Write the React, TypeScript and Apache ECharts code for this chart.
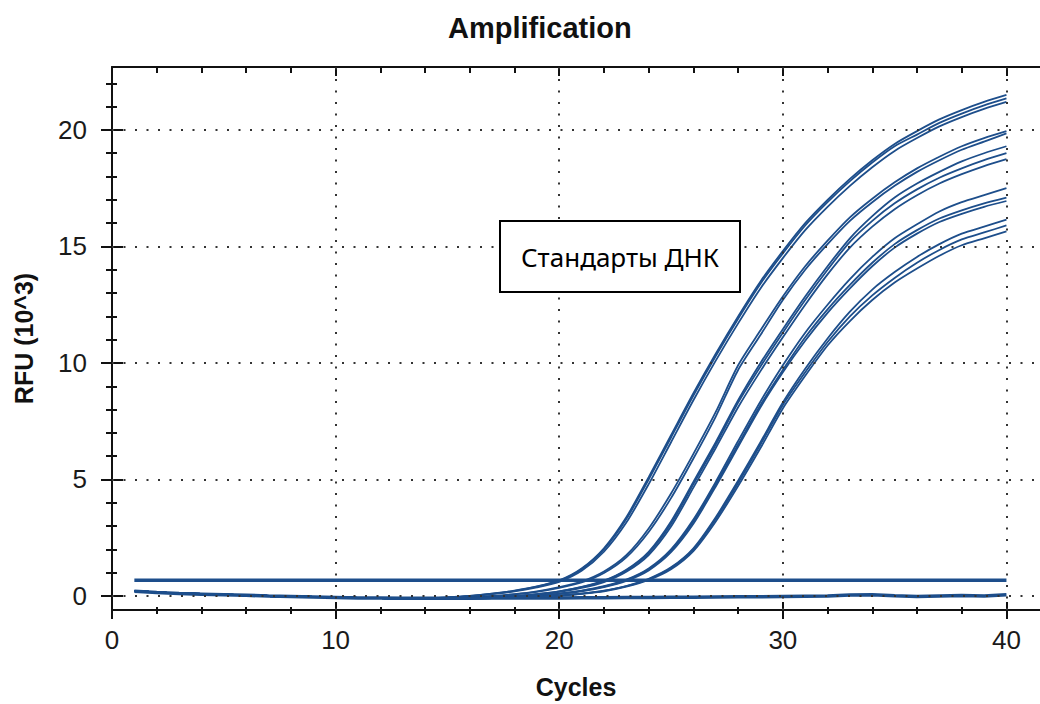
import React, { useEffect, useRef } from "react";
import * as echarts from "echarts";

// ---------- data ----------
const cycles = [1, 2, 3, 4, 5, 6, 7, 8, 9, 10, 11, 12, 13, 14, 15, 16, 17, 18, 19, 20,
  21, 22, 23, 24, 25, 26, 27, 28, 29, 30, 31, 32, 33, 34, 35, 36, 37, 38, 39, 40];

// cycles 1..14, shared by all standard curves
const earlyBaseline = [0.22, 0.16, 0.12, 0.09, 0.06, 0.03, 0.0, -0.02, -0.04, -0.06, -0.08, -0.09, -0.1, -0.1];

// cycles 15..40 for each standard curve
const s1a = [-0.06, 0.0, 0.1, 0.23, 0.41, 0.67, 1.18, 2.05, 3.38, 5.1, 6.9, 8.7, 10.4, 12.0, 13.5, 14.8, 16.0, 17.0, 17.9, 18.7, 19.4, 19.95, 20.45, 20.85, 21.2, 21.5];
const s1b = [-0.06, 0.0, 0.1, 0.22, 0.4, 0.65, 1.15, 2.0, 3.3, 5.0, 6.8, 8.6, 10.3, 11.9, 13.4, 14.7, 15.9, 16.9, 17.8, 18.6, 19.3, 19.8, 20.3, 20.7, 21.05, 21.35];
const s1c = [-0.07, -0.01, 0.08, 0.2, 0.37, 0.61, 1.08, 1.9, 3.15, 4.8, 6.6, 8.4, 10.1, 11.7, 13.2, 14.5, 15.7, 16.7, 17.6, 18.4, 19.1, 19.65, 20.15, 20.55, 20.9, 21.2];
const s2a = [-0.08, -0.06, 0.0, 0.08, 0.2, 0.38, 0.62, 1.05, 1.75, 2.9, 4.4, 6.1, 7.9, 9.9, 11.4, 12.85, 14.15, 15.25, 16.25, 17.05, 17.75, 18.35, 18.85, 19.3, 19.65, 19.95];
const s2b = [-0.08, -0.06, -0.01, 0.07, 0.18, 0.35, 0.58, 0.99, 1.66, 2.75, 4.2, 5.9, 7.7, 9.7, 11.2, 12.7, 14.0, 15.1, 16.1, 16.9, 17.6, 18.2, 18.7, 19.15, 19.5, 19.85];
const s3a = [-0.09, -0.08, -0.05, 0.0, 0.08, 0.2, 0.39, 0.66, 1.13, 1.9, 3.2, 4.9, 6.6, 8.4, 10.0, 11.45, 12.85, 14.15, 15.35, 16.3, 17.1, 17.7, 18.2, 18.65, 19.0, 19.3];
const s3b = [-0.09, -0.08, -0.05, 0.0, 0.08, 0.2, 0.38, 0.64, 1.1, 1.85, 3.1, 4.8, 6.5, 8.3, 9.85, 11.3, 12.7, 14.0, 15.2, 16.1, 16.85, 17.45, 17.95, 18.35, 18.7, 19.0];
const s3c = [-0.09, -0.08, -0.06, -0.01, 0.06, 0.18, 0.35, 0.6, 1.04, 1.76, 2.98, 4.65, 6.35, 8.1, 9.65, 11.1, 12.5, 13.8, 14.95, 15.85, 16.6, 17.2, 17.7, 18.1, 18.45, 18.75];
const s4a = [-0.1, -0.09, -0.07, -0.04, 0.02, 0.1, 0.23, 0.42, 0.7, 1.18, 2.0, 3.28, 4.9, 6.65, 8.35, 9.9, 11.3, 12.5, 13.6, 14.55, 15.35, 15.95, 16.5, 16.9, 17.2, 17.5];
const s4b = [-0.1, -0.09, -0.07, -0.04, 0.02, 0.1, 0.22, 0.4, 0.68, 1.15, 1.95, 3.2, 4.8, 6.5, 8.2, 9.7, 11.1, 12.3, 13.35, 14.3, 15.1, 15.7, 16.2, 16.55, 16.85, 17.1];
const s4c = [-0.1, -0.09, -0.07, -0.05, 0.01, 0.09, 0.2, 0.38, 0.65, 1.1, 1.88, 3.1, 4.7, 6.4, 8.1, 9.6, 10.95, 12.15, 13.2, 14.15, 14.95, 15.55, 16.05, 16.4, 16.7, 16.95];
const s5a = [-0.1, -0.1, -0.09, -0.07, -0.04, 0.02, 0.1, 0.23, 0.43, 0.74, 1.23, 2.05, 3.38, 4.95, 6.6, 8.3, 9.75, 11.05, 12.2, 13.15, 13.9, 14.55, 15.1, 15.55, 15.85, 16.15];
const s5b = [-0.1, -0.1, -0.09, -0.07, -0.04, 0.02, 0.1, 0.22, 0.42, 0.72, 1.2, 2.0, 3.3, 4.85, 6.5, 8.2, 9.6, 10.9, 12.0, 12.9, 13.65, 14.3, 14.85, 15.3, 15.6, 15.9];
const s5c = [-0.1, -0.1, -0.09, -0.07, -0.05, 0.01, 0.09, 0.2, 0.4, 0.69, 1.15, 1.93, 3.2, 4.72, 6.35, 8.05, 9.45, 10.75, 11.8, 12.7, 13.45, 14.05, 14.6, 15.05, 15.35, 15.65];

const standardTails = [s1a, s1b, s1c, s2a, s2b, s3a, s3b, s3c, s4a, s4b, s4c, s5a, s5b, s5c];

// flat traces, cycles 1..40
const flatTrace = [0.68, 0.68, 0.68, 0.68, 0.68, 0.68, 0.68, 0.68, 0.68, 0.68, 0.68, 0.68, 0.68, 0.68, 0.68, 0.68, 0.68, 0.68, 0.68, 0.68,
  0.68, 0.68, 0.68, 0.68, 0.68, 0.68, 0.68, 0.68, 0.68, 0.68, 0.68, 0.68, 0.68, 0.68, 0.68, 0.68, 0.68, 0.68, 0.68, 0.68];
const negativeTrace = [0.2, 0.15, 0.11, 0.08, 0.05, 0.03, 0.0, -0.02, -0.04, -0.06, -0.08, -0.09, -0.1, -0.1, -0.1, -0.1, -0.09, -0.09, -0.08, -0.08,
  -0.07, -0.07, -0.06, -0.06, -0.05, -0.05, -0.04, -0.03, -0.03, -0.02, -0.01, 0.0, 0.04, 0.05, 0.01, -0.02, 0.0, 0.02, 0.0, 0.05];

const xMajorTicks = [0, 10, 20, 30, 40];
const xMinorTicks = [0, 2, 4, 6, 8, 10, 12, 14, 16, 18, 20, 22, 24, 26, 28, 30, 32, 34, 36, 38, 40];
const yMajorTicks = [0, 5, 10, 15, 20];
const yMinorTicks = [0, 1, 2, 3, 4, 5, 6, 7, 8, 9, 10, 11, 12, 13, 14, 15, 16, 17, 18, 19, 20, 21, 22];
const xGridValues = [10, 20, 30, 40];
const yGridValues = [0, 5, 10, 15, 20];

const titleText = "Amplification";
const xName = "Cycles";
const yName = "RFU (10^3)";
const noteText = "Стандарты ДНК";

// ---------- styles ----------
const FONT = "'Liberation Sans', Arial, sans-serif";
const AX = "#111";
const LINE = "#1d4e8b";
const X_MIN = 0, X_MAX = 41.5, Y_MIN = -0.6, Y_MAX = 22.7;

function tickAxis(base: any, pos: string, ticks: number[], len: number, inside: boolean, extra: any = {}) {
  return {
    ...base,
    position: pos,
    splitLine: { show: false },
    axisLine: { show: false, onZero: false },
    axisLabel: { show: false },
    axisTick: { show: true, inside, length: len, customValues: ticks, lineStyle: { color: AX, width: 2 } },
    ...extra,
  };
}

export default function App() {
  const ref = useRef<HTMLDivElement>(null);
  useEffect(() => {
    if (!ref.current) return;
    const chart = echarts.init(ref.current, undefined, { renderer: "svg" });
    const xBase = { type: "value", min: X_MIN, max: X_MAX };
    const yBase = { type: "value", min: Y_MIN, max: Y_MAX };
    const toData = (vals: number[]) => cycles.map((c, i) => [c, vals[i]]);

    const lineBase = {
      type: "line",
      showSymbol: false,
      symbol: "none",
      silent: true,
      smooth: 0.25,
      emphasis: { disabled: true },
    };

    const series: any[] = [
      {
        ...lineBase,
        name: "negative",
        data: toData(negativeTrace),
        smooth: false,
        lineStyle: { color: LINE, width: 3.5 },
        markLine: {
          silent: true,
          symbol: ["none", "none"],
          label: { show: false },
          lineStyle: { color: "#333", width: 2, type: [2, 9.5] },
          data: [
            ...yGridValues.map((v) => ({ yAxis: v })),
            ...xGridValues.map((v) => ({ xAxis: v })),
          ],
        },
      },
      {
        ...lineBase,
        name: "flat",
        data: toData(flatTrace),
        smooth: false,
        lineStyle: { color: LINE, width: 3.5 },
      },
      ...standardTails.map((tail, k) => ({
        ...lineBase,
        name: "std" + k,
        data: toData([...earlyBaseline, ...tail]),
        lineStyle: { color: LINE, width: 1.8 },
      })),
    ];

    chart.setOption({
      animation: false,
      backgroundColor: "#ffffff",
      title: {
        text: titleText,
        left: 443,
        top: 8,
        textStyle: { fontFamily: FONT, fontSize: 29, fontWeight: "bold", color: "#111" },
      },
      grid: { left: 112, top: 67, width: 928, height: 544, containLabel: false },
      xAxis: [
        {
          ...xBase,
          position: "bottom",
          splitLine: { show: false },
          axisLine: { show: true, onZero: false, lineStyle: { color: AX, width: 2 } },
          axisTick: { show: true, length: 9, customValues: xMajorTicks, lineStyle: { color: AX, width: 2 } },
          axisLabel: { show: true, customValues: xMajorTicks, fontFamily: FONT, fontSize: 26, color: "#1a1a1a", margin: 17 },
          name: xName,
          nameLocation: "middle",
          nameGap: 64,
          nameTextStyle: { fontFamily: FONT, fontSize: 25, fontWeight: "bold", color: "#111" },
        },
        tickAxis(xBase, "bottom", xMajorTicks, 8, true),
        tickAxis(xBase, "bottom", xMinorTicks, 4, false),
        tickAxis(xBase, "bottom", xMinorTicks, 3, true),
        tickAxis(xBase, "top", xMajorTicks, 9, true, {
          axisLine: { show: true, onZero: false, lineStyle: { color: AX, width: 2 } },
        }),
        tickAxis(xBase, "top", xMinorTicks, 6, true),
      ],
      yAxis: [
        {
          ...yBase,
          position: "left",
          splitLine: { show: false },
          axisLine: { show: true, onZero: false, lineStyle: { color: AX, width: 2 } },
          axisTick: { show: true, length: 11, customValues: yMajorTicks, lineStyle: { color: AX, width: 2 } },
          axisLabel: { show: true, customValues: yMajorTicks, fontFamily: FONT, fontSize: 26, color: "#1a1a1a", margin: 25 },
          name: yName,
          nameLocation: "middle",
          nameGap: 76,
          nameTextStyle: { fontFamily: FONT, fontSize: 25, fontWeight: "bold", color: "#111" },
        },
        tickAxis(yBase, "left", yMajorTicks, 11, true),
        tickAxis(yBase, "left", yMinorTicks, 6, false),
        tickAxis(yBase, "left", yMinorTicks, 5, true),
      ],
      graphic: [
        {
          type: "group",
          z: 100,
          children: [
            {
              type: "rect",
              z: 100,
              shape: { x: 500, y: 221, width: 240, height: 71 },
              style: { fill: "#ffffff", stroke: "#000", lineWidth: 2 },
            },
            {
              type: "text",
              z: 101,
              x: 620,
              y: 257,
              style: {
                text: noteText,
                fontFamily: "'Noto Sans', 'Open Sans', sans-serif",
                fontSize: 26,
                fill: "#000",
                align: "center",
                verticalAlign: "middle",
              },
            },
          ],
        },
      ],
      series,
    });
    return () => chart.dispose();
  }, []);

  return (
    <div
      ref={ref}
      style={{ position: "absolute", left: 0, top: 0, width: 1040, height: 704, background: "#fff" }}
    />
  );
}
